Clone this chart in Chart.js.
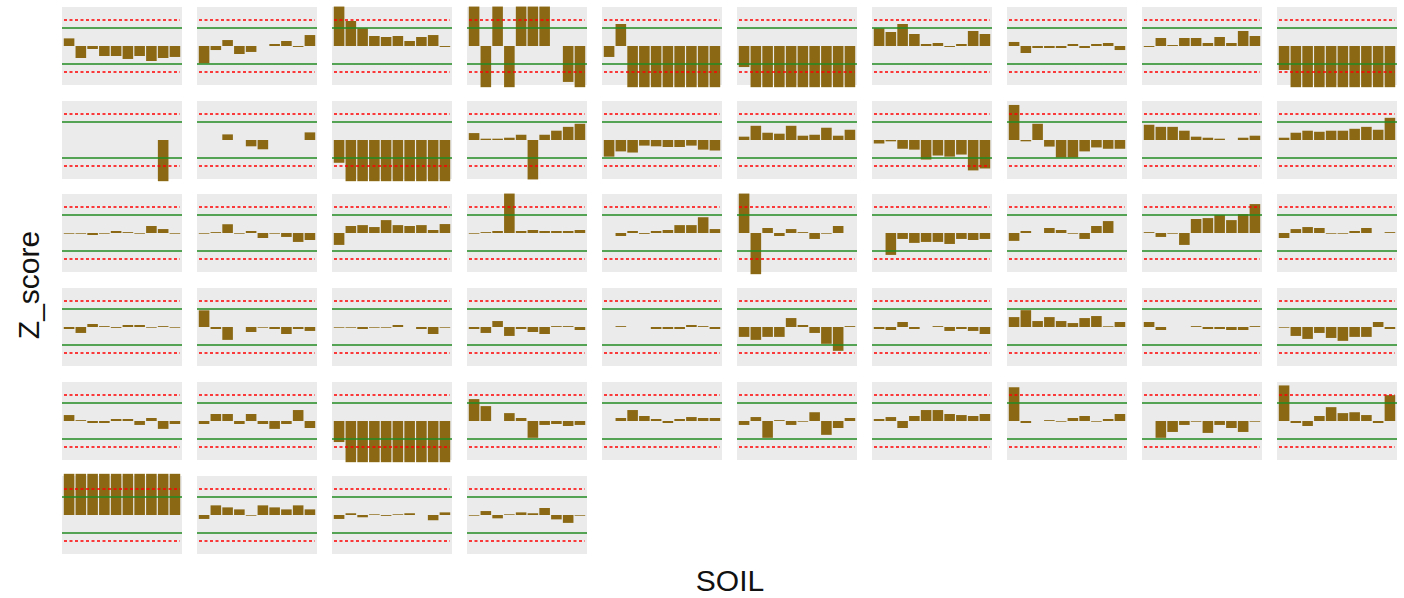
<!DOCTYPE html>
<html lang="en">
<head>
<meta charset="utf-8">
<style>
  body { margin: 0; background: #fff; width: 1404px; height: 598px; position: relative; overflow: hidden; font-family: "Liberation Sans", Arial, sans-serif; color: #111; }
  .panel { position: absolute; }
  #ylab { position: absolute; left: 29px; top: 285px; transform: translate(-50%, -50%) rotate(-90deg); font-size: 30px; white-space: nowrap; }
  #xlab { position: absolute; left: 730px; top: 581px; transform: translate(-50%, -50%); font-size: 30px; white-space: nowrap; }
</style>
</head>
<body>
<div id="ylab">Z_score</div>
<div id="xlab">SOIL</div>
<script src="https://cdn.jsdelivr.net/npm/chart.js"></script>
<script>
// one category per soil sample, ten per panel
const categories = ['1', '2', '3', '4', '5', '6', '7', '8', '9', '10'];

// z-scores per panel (null = no bar)
const p01 = [0.87, -1.37, -0.34, -1.14, -1.14, -1.48, -1.14, -1.71, -1.37, -1.25];
const p02 = [-1.98, -0.46, 0.68, -0.91, -0.68, null, 0.23, 0.57, -0.11, 1.25];
const p03 = [4.5, 2.85, 2.02, 1.14, 1.03, 1.14, 0.57, 1.03, 1.25, -0.11];
const p04 = [4.5, -4.7, 4.5, -4.7, 4.5, 4.5, 4.5, null, -4.1, -4.7];
const p05 = [-1.25, 2.51, -4.7, -4.7, -4.7, -4.7, -4.7, -4.7, -4.7, -4.7];
const p06 = [-2.4, -4.7, -4.7, -4.7, -4.7, -4.7, -4.7, -4.7, -4.7, -4.7];
const p07 = [2.02, 1.6, 2.51, 1.37, 0.23, 0.34, -0.11, 0.23, 1.71, 1.37];
const p08 = [0.46, -0.8, -0.23, -0.23, -0.23, 0.23, -0.23, 0.23, 0.34, -0.46];
const p09 = [-0.11, 0.91, 0.11, 0.91, 0.91, 0.34, 1.03, 0.34, 1.71, 1.14];
const p10 = [-2.74, -4.7, -4.7, -4.7, -4.7, -4.7, -4.7, -4.7, -4.7, -4.7];
const p11 = [null, null, null, null, null, null, null, null, -4.7, null];
const p12 = [null, null, 0.64, null, -0.72, -1.06, null, null, null, 0.87];
const p13 = [-2.6, -4.7, -4.7, -4.7, -4.7, -4.7, -4.7, -4.7, -4.7, -4.7];
const p14 = [0.79, 0.15, 0.15, 0.26, 0.6, -4.5, 0.6, 1.06, 1.5, 1.85];
const p15 = [-1.9, -1.3, -1.43, -0.64, -0.72, -0.8, -0.8, -0.64, -1.1, -1.2];
const p16 = [0.38, 1.62, 0.83, 0.72, 1.62, 0.49, 0.6, 1.4, 0.49, 1.17];
const p17 = [-0.4, -0.15, -1.0, -1.1, -2.23, -1.77, -1.9, -1.66, -3.47, -3.25];
const p18 = [4.0, -0.15, 1.85, -0.75, -2.0, -2.0, -1.3, -0.85, -1.0, -1.0];
const p19 = [1.74, 1.5, 1.5, 1.06, 0.38, 0.26, 0.15, null, 0.26, 0.49];
const p20 = [0.26, 0.83, 1.06, 0.94, 1.06, 1.06, 1.28, 1.5, 1.17, 2.53];
const p21 = [-0.08, -0.08, -0.23, -0.08, 0.23, 0.1, -0.08, 0.8, 0.45, -0.08];
const p22 = [-0.08, 0.1, 1.0, -0.08, 0.23, -0.57, -0.08, -0.45, -1.02, -0.8];
const p23 = [-1.36, 0.8, 0.9, 0.68, 1.47, 0.9, 0.8, 0.9, 0.34, 1.02];
const p24 = [-0.08, 0.1, 0.23, 4.5, 0.23, 0.34, 0.23, 0.23, 0.23, 0.34];
const p25 = [null, -0.34, 0.23, -0.1, 0.23, 0.34, 0.9, 0.9, 1.8, 0.45];
const p26 = [4.5, -4.7, 0.57, -0.34, 0.45, 0.1, -0.68, -0.08, 0.8, null];
const p27 = [null, -2.5, -0.68, -1.13, -1.02, -1.02, -1.25, -0.68, -0.8, -0.68];
const p28 = [-0.9, 0.23, null, 0.57, 0.34, -0.08, -0.68, 0.8, 1.36, null];
const p29 = [0.1, -0.45, -0.08, -1.36, 1.6, 1.7, 2.05, 1.47, 2.15, 3.3];
const p30 = [-0.57, 0.45, 0.68, 0.57, -0.08, -0.08, 0.23, 0.57, null, 0.1];
const p31 = [-0.23, -0.68, 0.34, 0.1, -0.1, 0.23, 0.23, -0.08, 0.1, -0.08];
const p32 = [1.9, -0.23, -1.47, null, -0.57, -0.08, -0.23, -0.8, -0.23, -0.45];
const p33 = [-0.08, -0.08, -0.23, -0.08, -0.08, 0.23, null, -0.23, -0.8, -0.08];
const p34 = [-0.23, -0.68, 0.68, -1.02, -0.23, -0.57, -0.8, 0.1, 0.1, -0.34];
const p35 = [null, 0.1, null, null, -0.23, -0.23, -0.23, 0.23, 0.1, -0.23];
const p36 = [-1.13, -1.47, -1.13, -1.13, 1.02, 0.23, -0.68, -1.92, -2.72, 0.1];
const p37 = [-0.23, -0.34, 0.57, -0.23, null, 0.1, -0.45, -0.23, -0.45, -0.8];
const p38 = [1.13, 1.92, 0.68, 1.13, 0.68, 0.45, 1.02, 1.25, 0.08, 0.57];
const p39 = [0.57, -0.34, null, null, 0.1, -0.23, -0.23, -0.34, -0.34, 0.1];
const p40 = [-0.08, -1.02, -1.36, -0.68, -1.25, -1.58, -1.13, -1.13, 0.57, -0.23];
const p41 = [0.68, 0.1, -0.23, -0.23, 0.23, 0.23, -0.45, 0.34, -0.9, -0.34];
const p42 = [-0.34, 0.8, 0.8, -0.34, 0.8, -0.34, -0.9, -0.34, 1.25, -0.8];
const p43 = [-2.4, -4.7, -4.7, -4.7, -4.7, -4.7, -4.7, -4.7, -4.7, -4.7];
const p44 = [2.5, 1.7, null, 0.9, 0.34, -1.92, -0.45, -0.34, -0.57, -0.45];
const p45 = [null, 0.34, 1.25, 0.57, 0.23, -0.23, 0.23, 0.45, 0.34, 0.34];
const p46 = [-0.45, 0.45, -1.92, 0.1, -0.45, -0.08, 1.0, -1.58, -0.8, 0.34];
const p47 = [0.23, 0.45, -0.8, 0.57, 1.25, 1.25, 0.8, 0.68, 0.57, 0.8];
const p48 = [3.85, -0.23, null, 0.1, -0.08, 0.34, 0.57, -0.08, 0.23, 0.8];
const p49 = [null, -1.92, -1.25, -0.45, -0.08, -1.36, -0.45, -0.8, -1.25, -0.08];
const p50 = [4.06, -0.23, -0.57, 0.57, 1.58, 0.9, 1.0, 0.68, -0.23, 2.95];
const p51 = [4.7, 4.7, 4.7, 4.7, 4.7, 4.7, 4.7, 4.7, 4.7, 4.7];
const p52 = [-0.45, 1.1, 0.87, 0.64, -0.08, 1.1, 0.87, 0.64, 1.1, 0.64];
const p53 = [-0.45, 0.2, -0.26, 0.08, -0.1, 0.08, 0.2, null, -0.6, 0.3];
const p54 = [-0.08, 0.45, -0.38, 0.08, 0.3, 0.2, 0.8, -0.5, -0.9, -0.08];

const panels = [p01, p02, p03, p04, p05, p06, p07, p08, p09, p10,
                p11, p12, p13, p14, p15, p16, p17, p18, p19, p20,
                p21, p22, p23, p24, p25, p26, p27, p28, p29, p30,
                p31, p32, p33, p34, p35, p36, p37, p38, p39, p40,
                p41, p42, p43, p44, p45, p46, p47, p48, p49, p50,
                p51, p52, p53, p54];

const greenLimits = [-2, 2];
const redLimits = [-3, 3];
const yLimit = 4.45;

// grey panel background + reference lines on top of the bars
const panelDeco = {
    id: 'panelDeco',
    beforeDraw(chart) {
        const ctx = chart.ctx, a = chart.chartArea;
        ctx.save();
        ctx.fillStyle = '#EBEBEB';
        ctx.fillRect(0, a.top, chart.width, a.bottom - a.top);
        ctx.restore();
    },
    afterDatasetsDraw(chart) {
        const ctx = chart.ctx, y = chart.scales.y;
        ctx.save();
        ctx.lineWidth = 1.4;
        ctx.strokeStyle = '#228B22';
        greenLimits.forEach(v => {
            const py = Math.round(y.getPixelForValue(v));
            ctx.beginPath(); ctx.moveTo(0, py); ctx.lineTo(chart.width, py); ctx.stroke();
        });
        ctx.strokeStyle = '#FF0000';
        ctx.lineWidth = 1.3;
        ctx.setLineDash([3, 2.5]);
        redLimits.forEach(v => {
            const py = Math.round(y.getPixelForValue(v));
            ctx.beginPath(); ctx.moveTo(2, py); ctx.lineTo(chart.width - 2, py); ctx.stroke();
        });
        ctx.restore();
    }
};

panels.forEach((values, i) => {
    const col = i % 10, row = Math.floor(i / 10);
    const div = document.createElement('div');
    div.className = 'panel';
    div.style.left = (62 + col * 135) + 'px';
    div.style.top = (Math.round(6.7 + row * 93.8) - 3) + 'px';
    const canvas = document.createElement('canvas');
    canvas.width = 120;
    canvas.height = 84;
    div.appendChild(canvas);
    document.body.appendChild(div);

    new Chart(canvas, {
        type: 'bar',
        data: {
            labels: categories,
            datasets: [{
                data: values,
                backgroundColor: '#8B6914',
                borderWidth: 0,
                barPercentage: 0.9,
                categoryPercentage: 1.0,
                clip: 3
            }]
        },
        options: {
            responsive: false,
            devicePixelRatio: 1,
            animation: false,
            layout: { padding: { left: 1.2, right: 1.2, top: 3, bottom: 3 } },
            plugins: { legend: { display: false }, tooltip: { enabled: false } },
            scales: {
                x: { display: false, offset: true },
                y: { display: false, min: -yLimit, max: yLimit }
            }
        },
        plugins: [panelDeco]
    });
});
</script>
</body>
</html>
